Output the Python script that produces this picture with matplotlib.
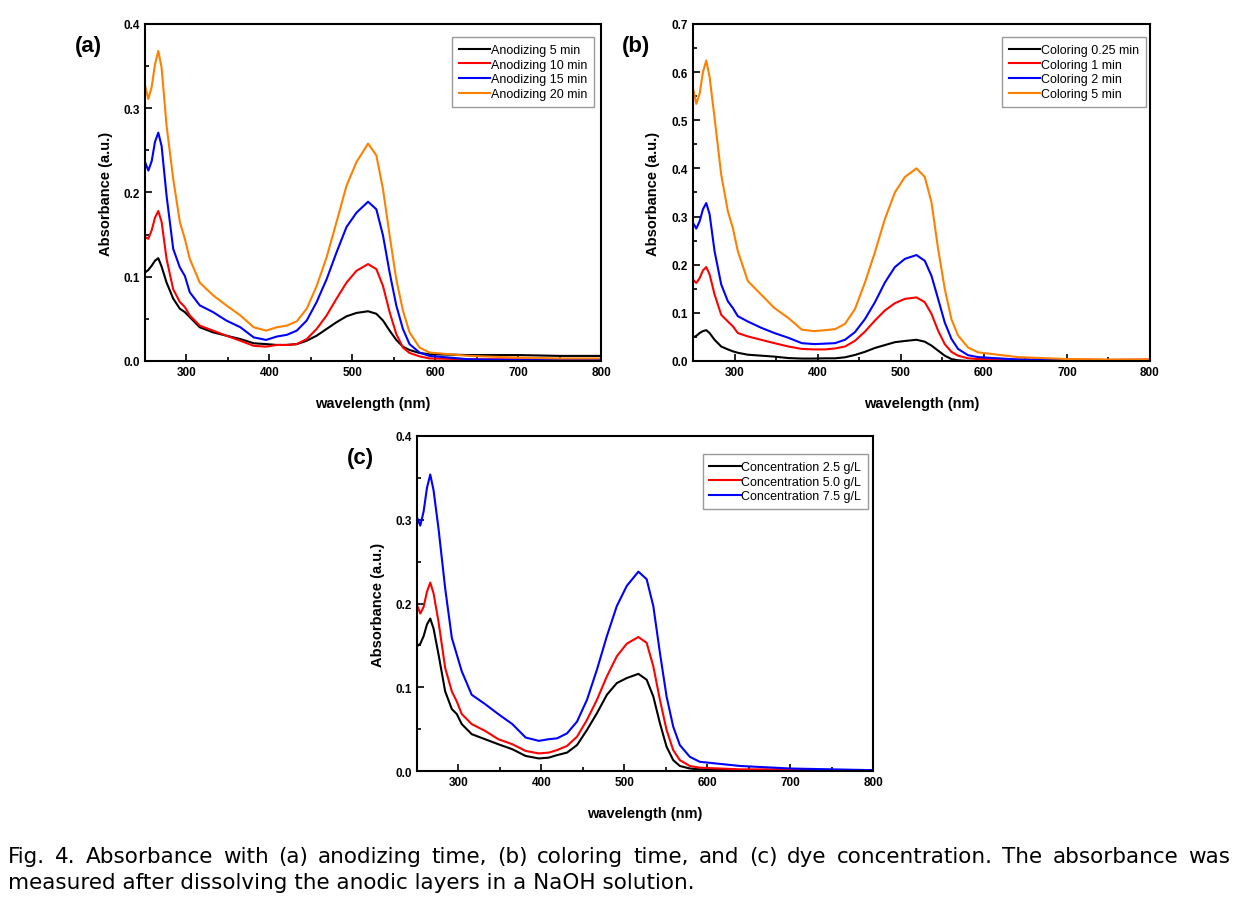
import matplotlib
matplotlib.use('Agg')
import matplotlib.pyplot as plt
from matplotlib.ticker import FormatStrFormatter

plt.rcParams['font.family'] = ['Liberation Sans', 'DejaVu Sans']

# wavelength grids (nm)
wl_ab = [250, 254, 258, 262, 266, 270, 276, 284, 292, 298, 304, 316, 332, 348, 365, 381, 396, 409, 421, 433,
         445, 457, 469, 481, 493, 505, 519, 529, 537, 545, 553, 561, 569, 581, 593, 641, 700, 750, 800]
wl_c = [250, 254, 258, 262, 266, 270, 276, 284, 292, 298, 304, 316, 332, 348, 365, 381, 397, 409, 419, 431,
        443, 455, 467, 479, 491, 503, 517, 527, 535, 543, 551, 559, 567, 579, 591, 640, 700, 750, 800]

# (a) anodizing time
a_labels = ['Anodizing 5 min', 'Anodizing 10 min', 'Anodizing 15 min', 'Anodizing 20 min']
a_5 = [0.105, 0.108, 0.113, 0.119, 0.122, 0.112, 0.093, 0.074, 0.062, 0.058, 0.052, 0.040, 0.034, 0.030, 0.026,
       0.021, 0.020, 0.019, 0.019, 0.020, 0.024, 0.030, 0.038, 0.046, 0.053, 0.057, 0.059, 0.056, 0.048, 0.036,
       0.025, 0.017, 0.013, 0.0095, 0.008, 0.007, 0.007, 0.006, 0.006]
a_10 = [0.147, 0.145, 0.155, 0.170, 0.178, 0.165, 0.121, 0.085, 0.070, 0.064, 0.054, 0.042, 0.036, 0.030, 0.024,
        0.018, 0.017, 0.019, 0.019, 0.020, 0.026, 0.038, 0.054, 0.074, 0.093, 0.107, 0.115, 0.109, 0.089, 0.058,
        0.032, 0.016, 0.0095, 0.0055, 0.003, 0.002, 0.002, 0.002, 0.002]
a_15 = [0.236, 0.226, 0.237, 0.260, 0.271, 0.255, 0.196, 0.133, 0.111, 0.101, 0.0815, 0.066, 0.058, 0.048, 0.040,
        0.028, 0.025, 0.029, 0.031, 0.036, 0.048, 0.070, 0.097, 0.129, 0.159, 0.176, 0.189, 0.180, 0.149, 0.105,
        0.066, 0.038, 0.020, 0.010, 0.006, 0.002, 0.001, 0.001, 0.001]
a_20 = [0.327, 0.311, 0.325, 0.352, 0.368, 0.348, 0.279, 0.216, 0.165, 0.145, 0.121, 0.093, 0.078, 0.066, 0.054,
        0.040, 0.036, 0.040, 0.042, 0.047, 0.062, 0.089, 0.123, 0.165, 0.208, 0.236, 0.258, 0.244, 0.204, 0.149,
        0.097, 0.060, 0.034, 0.016, 0.010, 0.006, 0.004, 0.003, 0.003]

# (b) coloring time
b_labels = ['Coloring 0.25 min', 'Coloring 1 min', 'Coloring 2 min', 'Coloring 5 min']
b_025 = [0.049, 0.052, 0.058, 0.062, 0.064, 0.058, 0.044, 0.030, 0.024, 0.020, 0.017, 0.013, 0.011, 0.009, 0.006,
         0.005, 0.005, 0.0055, 0.0055, 0.0076, 0.0125, 0.019, 0.027, 0.033, 0.039, 0.0415, 0.044, 0.040, 0.032,
         0.0215, 0.011, 0.004, 0.0014, 0.0, 0.0, 0.0, 0.0, 0.0, 0.0]
b_1 = [0.169, 0.162, 0.172, 0.188, 0.195, 0.180, 0.138, 0.096, 0.082, 0.072, 0.058, 0.051, 0.044, 0.037, 0.030,
       0.025, 0.024, 0.024, 0.026, 0.030, 0.042, 0.061, 0.084, 0.105, 0.120, 0.129, 0.132, 0.122, 0.098, 0.063,
       0.035, 0.019, 0.011, 0.0055, 0.004, 0.003, 0.003, 0.002, 0.003]
b_2 = [0.287, 0.275, 0.290, 0.315, 0.328, 0.305, 0.228, 0.159, 0.124, 0.110, 0.093, 0.082, 0.069, 0.058, 0.048,
       0.037, 0.035, 0.036, 0.037, 0.044, 0.060, 0.087, 0.122, 0.163, 0.195, 0.212, 0.220, 0.208, 0.177, 0.129,
       0.080, 0.046, 0.025, 0.012, 0.008, 0.003, 0.002, 0.002, 0.002]
b_5 = [0.567, 0.534, 0.555, 0.600, 0.624, 0.590, 0.505, 0.387, 0.311, 0.276, 0.228, 0.166, 0.138, 0.110, 0.089,
       0.065, 0.062, 0.064, 0.066, 0.077, 0.108, 0.163, 0.226, 0.295, 0.350, 0.382, 0.400, 0.382, 0.330, 0.233,
       0.150, 0.087, 0.053, 0.028, 0.018, 0.008, 0.004, 0.003, 0.003]

# (c) dye concentration
c_labels = ['Concentration 2.5 g/L', 'Concentration 5.0 g/L', 'Concentration 7.5 g/L']
c_25 = [0.149, 0.152, 0.161, 0.175, 0.182, 0.170, 0.139, 0.095, 0.074, 0.068, 0.056, 0.044, 0.038, 0.032, 0.026,
        0.018, 0.015, 0.016, 0.019, 0.022, 0.031, 0.049, 0.069, 0.091, 0.105, 0.111, 0.116, 0.109, 0.089, 0.057,
        0.029, 0.013, 0.006, 0.003, 0.002, 0.001, 0.0, 0.0, 0.0]
c_50 = [0.198, 0.188, 0.196, 0.214, 0.225, 0.212, 0.178, 0.123, 0.095, 0.083, 0.068, 0.056, 0.048, 0.038, 0.032,
        0.024, 0.021, 0.022, 0.025, 0.030, 0.041, 0.061, 0.085, 0.113, 0.137, 0.152, 0.160, 0.153, 0.125, 0.085,
        0.049, 0.025, 0.013, 0.006, 0.004, 0.002, 0.002, 0.001, 0.001]
c_75 = [0.303, 0.293, 0.310, 0.338, 0.354, 0.335, 0.289, 0.218, 0.159, 0.139, 0.119, 0.091, 0.080, 0.068, 0.056,
        0.040, 0.036, 0.038, 0.039, 0.045, 0.059, 0.085, 0.121, 0.161, 0.197, 0.221, 0.238, 0.229, 0.197, 0.141,
        0.089, 0.053, 0.031, 0.017, 0.011, 0.006, 0.003, 0.002, 0.001]

colors4 = ['black', '#ff0000', '#0000ff', '#ff8000']
colors3 = ['black', '#ff0000', '#0000ff']

fig = plt.figure(figsize=(12.47, 9.04), dpi=100)


def panel(rect, wl, series, labels, colors, ymax, tag, leg_anchor):
    ax = fig.add_axes(rect)
    for y, lab, c in zip(series, labels, colors):
        ax.plot(wl, y, color=c, lw=1.5, label=lab)
    ax.set_xlim(250, 800)
    ax.set_ylim(0, ymax)
    ax.set_xticks([300, 400, 500, 600, 700, 800])
    ax.set_xticks(range(250, 801, 50), minor=True)
    n = int(round(ymax / 0.1))
    ax.set_yticks([i * 0.1 for i in range(n + 1)])
    ax.set_yticks([i * 0.05 for i in range(2 * n + 1)], minor=True)
    ax.yaxis.set_major_formatter(FormatStrFormatter('%.1f'))
    ax.tick_params(which='both', direction='in', labelsize=8.5, width=1.2)
    ax.tick_params(which='major', length=5)
    ax.tick_params(which='minor', length=3)
    for lbl in ax.get_xticklabels() + ax.get_yticklabels():
        lbl.set_fontweight('bold')
    for s in ax.spines.values():
        s.set_linewidth(1.5)
    ax.set_xlabel('wavelength (nm)', fontsize=10.5, fontweight='bold', labelpad=13)
    ax.set_ylabel('Absorbance (a.u.)', fontsize=10.5, fontweight='bold', labelpad=8)
    leg = ax.legend(loc='upper right', bbox_to_anchor=leg_anchor, borderaxespad=0,
                    fontsize=9, frameon=True, fancybox=False, edgecolor='#808080',
                    handlelength=2.5, labelspacing=0.22, handletextpad=0.05, borderpad=0.55)
    leg.get_frame().set_linewidth(1.0)
    ax.text(-0.125, 0.935, tag, transform=ax.transAxes, fontsize=16,
            fontweight='bold', ha='center', va='center')
    return ax


panel([0.1163, 0.5996, 0.3657, 0.3728], wl_ab, [a_5, a_10, a_15, a_20], a_labels, colors4, 0.4, '(a)',
      (0.985, 0.961))
panel([0.5557, 0.5996, 0.3665, 0.3728], wl_ab, [b_025, b_1, b_2, b_5], b_labels, colors4, 0.7, '(b)',
      (0.991, 0.961))
panel([0.3344, 0.1460, 0.3657, 0.3706], wl_c, [c_25, c_50, c_75], c_labels, colors3, 0.4, '(c)',
      (0.989, 0.946))

# caption, first line justified to the full width
cap1 = ('Fig. 4. Absorbance with (a) anodizing time, (b) coloring time, and (c) dye concentration. '
        'The absorbance was')
cap2 = 'measured after dissolving the anodic layers in a NaOH solution.'
W, H = 1247.0, 904.0
x0, x1 = 8.0, 1230.0
cap_font = dict(fontsize=15.5, family='DejaVu Sans', va='baseline', ha='left')
renderer = fig.canvas.get_renderer()
words = cap1.split(' ')
texts = [fig.text(0, 1 - 863 / H, w, **cap_font) for w in words]
widths = [t.get_window_extent(renderer).width for t in texts]
gap = (x1 - x0 - sum(widths)) / (len(words) - 1)
x = x0
for t, w in zip(texts, widths):
    t.set_x(x / W)
    x += w + gap
fig.text(x0 / W, 1 - 889 / H, cap2, **cap_font)

fig.savefig('out.png', dpi=100)
